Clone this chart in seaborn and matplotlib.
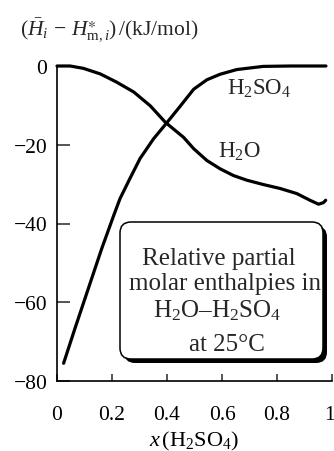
import numpy as np
import pandas as pd
import matplotlib
matplotlib.use("Agg")
import matplotlib.pyplot as plt
import matplotlib.transforms as mtransforms
import seaborn as sns
from matplotlib.patches import FancyBboxPatch

# ---- data ----
x_h2so4 = [0.024, 0.066, 0.114, 0.163, 0.206, 0.229, 0.265, 0.302, 0.351, 0.396,
           0.447, 0.497, 0.545, 0.593, 0.654, 0.75, 0.85, 0.978]
y_h2so4 = [-75.5, -66.5, -56.5, -46.3, -38.0, -33.7, -28.6, -23.5, -18.5, -14.7,
           -10.3, -5.9, -3.5, -2.1, -0.9, -0.1, 0.0, 0.0]

x_h2o = [0.0, 0.048, 0.096, 0.157, 0.217, 0.279, 0.339, 0.394, 0.46, 0.497,
         0.545, 0.593, 0.641, 0.69, 0.75, 0.811, 0.872, 0.92, 0.951, 0.969, 0.977]
y_h2o = [0.0, 0.0, -0.6, -2.0, -4.1, -6.6, -10.1, -14.3, -18.1, -21.0,
         -24.0, -26.1, -27.8, -29.0, -30.1, -31.1, -32.4, -34.1, -35.1, -34.7, -34.1]

x_ticks = [0, 0.2, 0.4, 0.6, 0.8, 1]
x_ticklabels = ["0", "0.2", "0.4", "0.6", "0.8", "1"]
y_ticks = [0, -20, -40, -60, -80]
y_ticklabels = ["0", "\u221220", "\u221240", "\u221260", "\u221280"]

series_labels = [r"H$_2$SO$_4$", r"H$_2$O"]
box_lines = ["Relative partial", "molar enthalpies in",
             "H$_2$O\u2013H$_2$SO$_4$", "at 25\u00b0C"]
ylabel = r"$(\bar{H}_i\,-\,H^{\ast}_{\mathrm{m},i})\,/(\mathrm{kJ/mol})$"
xlabel = r"$x\,$(H$_2$SO$_4$)"

# ---- style ----
sns.set_theme(style="ticks")
plt.rcParams["font.family"] = ["Liberation Serif", "DejaVu Serif"]
plt.rcParams["mathtext.fontset"] = "custom"
plt.rcParams["mathtext.rm"] = "Liberation Serif"
plt.rcParams["mathtext.it"] = "Liberation Serif:italic"
plt.rcParams["mathtext.bf"] = "Liberation Serif:bold"
plt.rcParams["mathtext.fallback"] = "stix"

W, H = 334, 452
fig = plt.figure(figsize=(W / 100, H / 100), dpi=100)
ax_l, ax_r, ax_t, ax_b = 57, 332, 67, 382
ax = fig.add_axes([ax_l / W, 1 - ax_b / H, (ax_r - ax_l) / W, (ax_b - ax_t) / H])

df1 = pd.DataFrame({"x": x_h2so4, "y": y_h2so4})
df2 = pd.DataFrame({"x": x_h2o, "y": y_h2o})
sns.lineplot(data=df1, x="x", y="y", color="black", linewidth=2.3, sort=False,
             ax=ax, clip_on=False, solid_capstyle="round")
sns.lineplot(data=df2, x="x", y="y", color="black", linewidth=2.3, sort=False,
             ax=ax, clip_on=False, solid_capstyle="round")

ax.set_xlim(0, 1)
ax.set_ylim(-80, 0)
ax.set_xticks(x_ticks)
ax.set_xticklabels(x_ticklabels)
ax.set_yticks(y_ticks)
ax.set_yticklabels(y_ticklabels)
ax.tick_params(axis="y", direction="in", length=9, width=1.1, labelsize=15.5, pad=7)
ax.tick_params(axis="x", direction="in", length=5, width=1.1, labelsize=15.5, pad=17)
for lab in ax.get_xticklabels() + ax.get_yticklabels():
    lab.set_color("black")
# keep the last x tick label inside the canvas
last = ax.get_xticklabels()[-1]
last.set_transform(last.get_transform() + mtransforms.ScaledTranslation(-3 / 100, 0, fig.dpi_scale_trans))
sns.despine(ax=ax)
for s in ["left", "bottom"]:
    ax.spines[s].set_linewidth(1.2)
    ax.spines[s].set_color("black")
ax.set_ylabel("")
ax.set_xlabel(xlabel, fontsize=16, labelpad=4, color="black")

# curve labels
ax.text(0.735, -7.1, series_labels[0], fontsize=16.5, ha="center", va="baseline")
ax.text(0.665, -23.1, series_labels[1], fontsize=16.5, ha="center", va="baseline")

# y label at top
fig.text(20 / W, 1 - 30 / H, ylabel, fontsize=15.5, ha="left", va="center")

# rounded box with shadow
x0, x1 = (120 - ax_l) / (ax_r - ax_l), (323 - ax_l) / (ax_r - ax_l)
y0, y1 = (ax_b - 360) / (ax_b - ax_t), (ax_b - 223) / (ax_b - ax_t)
aspect = (ax_r - ax_l) / (ax_b - ax_t)
r = 11 / (ax_r - ax_l)
dx, dy = 4 / (ax_r - ax_l), 4 / (ax_b - ax_t)
shadow = FancyBboxPatch((x0 + dx, y0 - dy), x1 - x0, y1 - y0,
                        boxstyle=f"round,pad=0,rounding_size={r}",
                        mutation_aspect=aspect, transform=ax.transAxes,
                        facecolor="black", edgecolor="black", linewidth=0,
                        zorder=4, clip_on=False)
box = FancyBboxPatch((x0, y0), x1 - x0, y1 - y0,
                     boxstyle=f"round,pad=0,rounding_size={r}",
                     mutation_aspect=aspect, transform=ax.transAxes,
                     facecolor="white", edgecolor="black", linewidth=1.1,
                     zorder=5, clip_on=False)
ax.add_patch(shadow)
ax.add_patch(box)

line_x = [0.589, 0.611, 0.581, 0.617]
line_py = [265, 290, 317, 351]
for t, lx, py in zip(box_lines, line_x, line_py):
    ax.text(lx, (ax_b - py) / (ax_b - ax_t), t, transform=ax.transAxes,
            fontsize=18, ha="center", va="baseline", zorder=6)

fig.savefig("out.png", dpi=100)
